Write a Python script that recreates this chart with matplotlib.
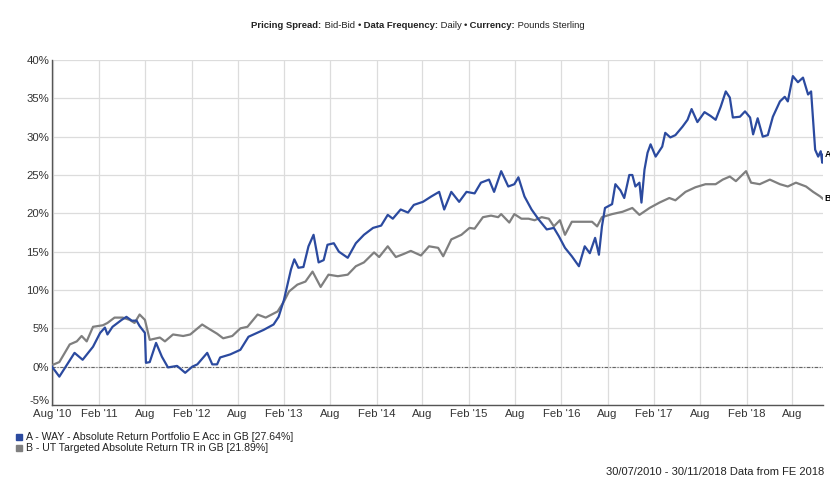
import matplotlib
matplotlib.use("Agg")
import matplotlib.pyplot as plt
import matplotlib.transforms as mtrans
import pandas as pd

plt.rcParams['font.family'] = ['Liberation Sans', 'DejaVu Sans']

# ---------------- data ----------------
dates_a = ["2010-07-30", "2010-08-28", "2010-10-27", "2010-11-28", "2011-01-08", "2011-02-05",
           "2011-02-24", "2011-03-06", "2011-03-26", "2011-05-01", "2011-05-20", "2011-06-10",
           "2011-06-29", "2011-07-11", "2011-08-01", "2011-08-05", "2011-08-20", "2011-09-14",
           "2011-10-07", "2011-10-31", "2011-12-06", "2012-01-07", "2012-02-04", "2012-02-24",
           "2012-04-03", "2012-04-23", "2012-05-12", "2012-05-24", "2012-07-03", "2012-08-12",
           "2012-09-13", "2012-11-12", "2012-12-21", "2013-01-10", "2013-01-31", "2013-02-28",
           "2013-03-13", "2013-03-29", "2013-04-18", "2013-05-08", "2013-05-28", "2013-06-17",
           "2013-07-07", "2013-07-22", "2013-08-16", "2013-09-05", "2013-10-10", "2013-11-11",
           "2013-12-13", "2014-01-18", "2014-02-19", "2014-03-17", "2014-04-06", "2014-05-07",
           "2014-06-05", "2014-06-28", "2014-08-03", "2014-09-05", "2014-10-06", "2014-10-26",
           "2014-11-23", "2014-12-24", "2015-01-22", "2015-02-23", "2015-03-20", "2015-04-21",
           "2015-05-11", "2015-06-08", "2015-07-06", "2015-07-30", "2015-08-15", "2015-09-08",
           "2015-10-06", "2015-11-03", "2015-12-05", "2016-01-02", "2016-01-22", "2016-02-15",
           "2016-03-13", "2016-04-10", "2016-05-03", "2016-05-23", "2016-06-13", "2016-06-28",
           "2016-07-10", "2016-07-22", "2016-08-19", "2016-09-01", "2016-09-21", "2016-10-06",
           "2016-10-26", "2016-11-07", "2016-11-19", "2016-12-05", "2016-12-13", "2016-12-25",
           "2017-01-06", "2017-01-18", "2017-02-07", "2017-03-05", "2017-03-17", "2017-04-06",
           "2017-04-26", "2017-05-24", "2017-06-13", "2017-06-29", "2017-07-22", "2017-08-19",
           "2017-09-12", "2017-10-02", "2017-10-22", "2017-11-11", "2017-11-27", "2017-12-09",
           "2018-01-06", "2018-01-26", "2018-02-15", "2018-02-27", "2018-03-17", "2018-04-06",
           "2018-04-26", "2018-05-16", "2018-06-13", "2018-07-02", "2018-07-14", "2018-08-03",
           "2018-08-23", "2018-09-12", "2018-10-02", "2018-10-14", "2018-10-30", "2018-11-11",
           "2018-11-21", "2018-11-27", "2018-11-30"]
values_a = [0.0, -1.3, 1.8, 0.9, 2.6, 4.4,
            5.1, 4.2, 5.2, 6.1, 6.5, 6.0,
            6.0, 5.3, 4.4, 0.5, 0.6, 3.1,
            1.3, -0.1, 0.1, -0.8, 0.0, 0.3,
            1.8, 0.3, 0.3, 1.2, 1.6, 2.2,
            3.9, 4.8, 5.5, 6.5, 8.7, 12.7,
            14.0, 12.9, 13.0, 15.7, 17.2, 13.6,
            13.9, 15.9, 16.1, 15.0, 14.2, 16.1,
            17.2, 18.1, 18.4, 19.8, 19.3, 20.5,
            20.1, 21.1, 21.5, 22.2, 22.8, 20.5,
            22.8, 21.5, 22.8, 22.6, 24.0, 24.4,
            22.8, 25.5, 23.5, 23.8, 24.7, 22.2,
            20.5, 19.2, 17.9, 18.1, 17.0, 15.5,
            14.4, 13.1, 15.7, 14.8, 16.8, 14.6,
            18.3, 20.7, 21.2, 23.8, 23.0, 22.0,
            25.0, 25.0, 23.5, 24.0, 21.4, 25.7,
            27.9, 29.0, 27.4, 28.7, 30.5, 29.9,
            30.2, 31.3, 32.2, 33.6, 31.9, 33.2,
            32.7, 32.2, 33.9, 35.9, 35.1, 32.5,
            32.6, 33.3, 32.5, 30.3, 32.4, 30.0,
            30.2, 32.6, 34.6, 35.2, 34.6, 37.9,
            37.1, 37.7, 35.5, 35.9, 28.3, 27.4,
            28.1, 26.6, 27.64]

dates_b = ["2010-07-30", "2010-08-28", "2010-10-08", "2010-11-05", "2010-11-24", "2010-12-14",
           "2011-01-08", "2011-02-16", "2011-03-06", "2011-04-03", "2011-05-05", "2011-06-02",
           "2011-06-21", "2011-07-11", "2011-08-01", "2011-08-20", "2011-09-29", "2011-10-19",
           "2011-11-20", "2011-12-30", "2012-01-27", "2012-03-14", "2012-04-07", "2012-05-12",
           "2012-06-05", "2012-07-11", "2012-08-12", "2012-09-09", "2012-10-19", "2012-11-20",
           "2013-01-06", "2013-01-31", "2013-02-20", "2013-03-25", "2013-04-26", "2013-05-24",
           "2013-06-25", "2013-07-26", "2013-09-01", "2013-10-10", "2013-11-11", "2013-12-13",
           "2014-01-22", "2014-02-11", "2014-03-17", "2014-04-18", "2014-05-19", "2014-06-16",
           "2014-07-26", "2014-08-27", "2014-10-02", "2014-10-22", "2014-11-23", "2015-01-02",
           "2015-02-03", "2015-02-23", "2015-03-28", "2015-04-29", "2015-05-27", "2015-06-08",
           "2015-07-10", "2015-07-30", "2015-08-27", "2015-09-24", "2015-10-18", "2015-11-15",
           "2015-12-13", "2016-01-02", "2016-01-26", "2016-02-15", "2016-03-13", "2016-04-22",
           "2016-06-01", "2016-06-21", "2016-07-10", "2016-08-19", "2016-09-29", "2016-11-07",
           "2016-12-05", "2017-01-14", "2017-02-22", "2017-04-02", "2017-04-26", "2017-06-05",
           "2017-07-14", "2017-08-23", "2017-10-02", "2017-10-30", "2017-11-27", "2017-12-21",
           "2018-01-30", "2018-02-19", "2018-03-25", "2018-05-04", "2018-06-13", "2018-07-14",
           "2018-08-15", "2018-09-24", "2018-10-22", "2018-11-19", "2018-11-30"]
values_b = [0.2, 0.6, 2.9, 3.3, 4.0, 3.3,
            5.2, 5.4, 5.7, 6.4, 6.4, 6.1,
            5.7, 6.8, 6.1, 3.5, 3.8, 3.3,
            4.2, 4.0, 4.2, 5.5, 5.0, 4.3,
            3.7, 4.0, 5.0, 5.2, 6.8, 6.4,
            7.2, 8.5, 9.8, 10.7, 11.1, 12.4,
            10.4, 12.0, 11.8, 12.0, 13.1, 13.6,
            14.9, 14.3, 15.7, 14.3, 14.7, 15.1,
            14.5, 15.7, 15.5, 14.4, 16.6, 17.2,
            18.1, 18.0, 19.5, 19.7, 19.5, 19.9,
            18.8, 19.9, 19.3, 19.3, 19.1, 19.5,
            19.3, 18.3, 19.1, 17.2, 18.9, 18.9,
            18.9, 18.3, 19.5, 19.9, 20.2, 20.7,
            19.8, 20.7, 21.4, 22.0, 21.7, 22.8,
            23.4, 23.8, 23.8, 24.4, 24.8, 24.2,
            25.5, 24.0, 23.8, 24.4, 23.8, 23.5,
            24.0, 23.5, 22.8, 22.2, 21.89]

tick_dates = ["2010-08-01", "2011-02-01", "2011-08-01", "2012-02-01", "2012-08-01", "2013-02-01",
              "2013-08-01", "2014-02-01", "2014-08-01", "2015-02-01", "2015-08-01", "2016-02-01",
              "2016-08-01", "2017-02-01", "2017-08-01", "2018-02-01", "2018-08-01"]
tick_labels = ["Aug '10", "Feb '11", "Aug", "Feb '12", "Aug", "Feb '13", "Aug", "Feb '14", "Aug",
               "Feb '15", "Aug", "Feb '16", "Aug", "Feb '17", "Aug", "Feb '18", "Aug"]
y_ticks = [-5, 0, 5, 10, 15, 20, 25, 30, 35, 40]

label_a = "A - WAY - Absolute Return Portfolio E Acc in GB [27.64%]"
label_b = "B - UT Targeted Absolute Return TR in GB [21.89%]"
color_a = "#2b4a9f"
color_b = "#7f7f7f"

# ---------------- figure ----------------
W, H = 830, 491
fig = plt.figure(figsize=(W / 100, H / 100), dpi=100)
fig.patch.set_facecolor("white")
ax = fig.add_axes([52 / W, 1 - 405 / H, (823 - 52) / W, (405 - 60) / H])

xa = pd.to_datetime(dates_a)
xb = pd.to_datetime(dates_b)
ax.plot(xb, values_b, color=color_b, lw=1.6, zorder=3)
ax.plot(xa, values_a, color=color_a, lw=1.6, zorder=4)
ax.axhline(0, color="#666666", lw=0.8, ls=(0, (3, 1.5, 1, 1.5)), zorder=2)

ax.set_xlim(pd.Timestamp("2010-07-30"), pd.Timestamp("2018-11-30"))
ax.set_ylim(-5, 40)
ax.set_xticks(pd.to_datetime(tick_dates))
ax.set_xticklabels(tick_labels)
ax.set_yticks(y_ticks)
ax.set_yticklabels([f"{v}%" for v in y_ticks])
ax.grid(True, color="#dcdcdc", lw=0.9, zorder=0)
ax.tick_params(axis="both", length=0, labelsize=8.2, colors="#333333", pad=2)
ax.tick_params(axis="x", pad=3)
for s in ["top", "right"]:
    ax.spines[s].set_visible(False)
for s in ["left", "bottom"]:
    ax.spines[s].set_color("#555555")
    ax.spines[s].set_linewidth(1.0)

# lift the bottom "-5%" label slightly, as in the reference
lbl = ax.get_yticklabels()[0]
lbl.set_transform(lbl.get_transform() + mtrans.ScaledTranslation(0, 5 / 100, fig.dpi_scale_trans))

# end labels
ax.annotate("A", xy=(xa[-1], values_a[-1]), xytext=(1, 0), textcoords="offset points",
            fontsize=6.3, fontweight="bold", va="center", ha="left", annotation_clip=False)
ax.annotate("B", xy=(xb[-1], values_b[-1]), xytext=(1, 0), textcoords="offset points",
            fontsize=6.3, fontweight="bold", va="center", ha="left", annotation_clip=False)

# title made of bold/normal pieces
pieces = [("Pricing Spread:", "bold"), (" Bid-Bid ", "normal"), ("\u2022", "normal"),
          (" Data Frequency:", "bold"), (" Daily ", "normal"), ("\u2022", "normal"),
          (" Currency:", "bold"), (" Pounds Sterling", "normal")]
fig.canvas.draw()
renderer = fig.canvas.get_renderer()
texts = []
total = 0
for s, w in pieces:
    t = fig.text(0, 1 - 26 / H, s, fontsize=6.8, fontweight=w, color="#222222", va="center", ha="left")
    bb = t.get_window_extent(renderer)
    texts.append((t, bb.width))
    total += bb.width
x0 = (418 - total / 2)
for t, wpx in texts:
    t.set_x(x0 / W)
    x0 += wpx

# legend
fig.patches.append(plt.Rectangle((16 / W, 1 - 440 / H), 6 / W, 6 / H, transform=fig.transFigure,
                                 color=color_a, figure=fig))
fig.patches.append(plt.Rectangle((16 / W, 1 - 451 / H), 6 / W, 6 / H, transform=fig.transFigure,
                                 color=color_b, figure=fig))
fig.text(26 / W, 1 - 437 / H, label_a, fontsize=7.6, color="#222222", va="center", ha="left")
fig.text(26 / W, 1 - 448 / H, label_b, fontsize=7.6, color="#222222", va="center", ha="left")

fig.text(824 / W, 1 - 472 / H, "30/07/2010 - 30/11/2018 Data from FE 2018", fontsize=8.0,
         color="#222222", va="center", ha="right")

fig.savefig("out.png", dpi=100)
